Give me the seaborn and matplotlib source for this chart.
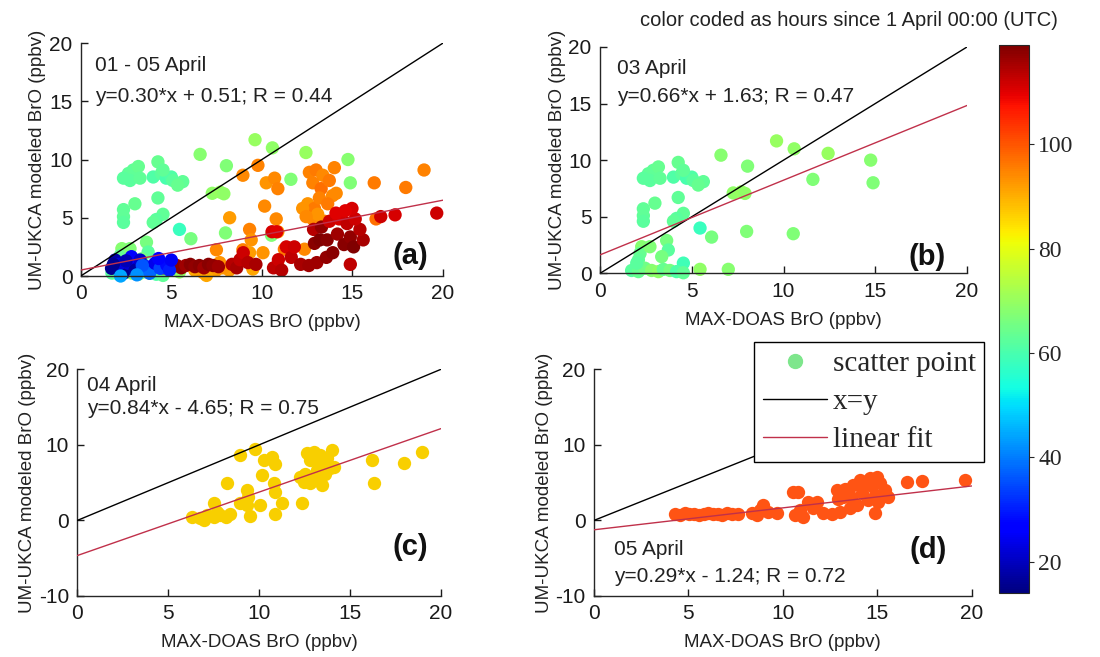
import numpy as np
import pandas as pd
import matplotlib
matplotlib.use("Agg")
import matplotlib.pyplot as plt
import seaborn as sns
from matplotlib.colors import Normalize
from matplotlib.cm import ScalarMappable
from matplotlib.lines import Line2D

# ---------------- data ----------------
# 01-02 April (blue points, only in panel a)
apr0102_x = [1.7, 1.9, 2.26, 2.35, 2.63, 2.8, 3.0, 3.28, 3.64, 3.8, 4.1, 4.38, 4.75, 4.9, 5.0,
             2.1, 2.5, 3.4, 4.3, 1.8, 3.1, 2.2]
apr0102_y = [0.66, 1.37, 0.8, 0.23, 1.09, 1.66, 0.5, 1.37, 0.8, 0.23, 1.09, 0.66, 0.94, 0.5, 1.37,
             1.0, 1.3, 0.9, 1.5, 1.0, 0.1, 0.0]
apr0102_h = [16, 18, 20, 15, 22, 26, 17, 21, 30, 38, 24, 34, 28, 30, 25,
             23, 19, 36, 27, 16, 42, 44]

# 03 April
apr03_x = [9.62, 10.58, 6.59, 12.43, 14.75, 14.88, 11.6, 8.04, 4.26,
           2.63, 2.9, 3.18, 2.72, 3.27, 2.36,
           4.0, 4.45, 4.72, 5.0, 5.08, 5.63, 5.35, 4.54,
           4.26, 2.99, 2.36, 2.36, 2.36, 4.54, 4.17, 4.0,
           7.26, 7.7, 7.9, 5.45, 6.08, 7.99, 10.53, 3.63,
           2.27, 2.18, 2.09, 3.72, 3.36, 2.72, 4.54, 5.45, 6.99,
           1.72, 2.09, 2.45, 2.81, 3.18, 3.45, 3.81, 4.17, 4.54, 2.0]
apr03_y = [11.7, 11.0, 10.44, 10.6, 10.0, 8.0, 8.3, 9.47, 9.8,
           8.8, 9.1, 9.4, 8.2, 8.4, 8.4,
           8.5, 8.8, 8.4, 8.5, 8.2, 8.1, 7.8, 9.1,
           6.7, 6.2, 5.7, 5.1, 4.6, 5.3, 4.85, 4.6,
           7.1, 7.2, 7.06, 4.0, 3.2, 3.7, 3.5, 2.9,
           2.35, 1.76, 1.18, 2.06, 1.47, 2.35, 0.9, 0.35, 0.35,
           0.25, 0.15, 0.45, 0.25, 0.15, 0.35, 0.25, 0.15, 0.05, 0.9]
apr03_h = [70, 69, 68, 70, 68, 67, 67, 67, 64,
           63, 63, 64, 62, 63, 62,
           61, 62, 60, 61, 62, 63, 64, 63,
           63, 64, 63, 63, 62, 63, 62, 63,
           69, 70, 69, 58, 66, 67, 67, 66,
           68, 64, 63, 62, 66, 67, 59, 69, 68,
           62, 64, 65, 68, 69, 64, 66, 61, 63, 62]

# 04 April
apr04_x = [8.95, 9.78, 10.24, 10.7, 10.88, 8.22, 10.15, 9.32, 9.41, 10.79, 10.88, 11.24, 12.35,
           10.06, 8.95, 9.32, 7.49, 9.5, 10.88, 8.4, 8.2,
           6.29, 6.75, 7.12, 7.49, 7.85, 6.94, 7.67,
           16.2, 16.3, 17.94, 18.95,
           12.62, 12.99, 13.36, 12.81, 13.27, 13.72, 14.0, 13.9, 12.53, 12.9, 13.45, 12.8,
           12.25, 13.17, 13.63, 14.1, 13.08, 12.44]
apr04_y = [8.65, 9.5, 8.0, 8.4, 7.5, 5.0, 6.0, 4.0, 3.1, 4.9, 3.8, 2.3, 2.3,
           2.0, 2.25, 2.0, 2.25, 0.6, 0.9, 0.9, 0.5,
           0.5, 0.3, 0.7, 0.5, 0.7, 0.05, 1.15,
           8.0, 4.9, 7.6, 9.1,
           8.9, 9.1, 8.65, 8.0, 7.5, 8.2, 9.3, 6.9, 6.2, 5.8, 4.7, 4.9,
           5.8, 6.7, 6.2, 7.1, 5.3, 5.1]
apr04_h = [94, 95, 93, 94, 95, 92, 94, 95, 93, 94, 92, 96, 94,
           93, 95, 92, 94, 91, 94, 93, 92,
           91, 92, 93, 92, 93, 91, 93,
           96, 97, 96, 95,
           95, 96, 94, 95, 97, 96, 95, 94, 93, 96, 95, 94,
           93, 95, 96, 94, 93, 94]

# 05 April
apr05_x = [4.3, 4.55, 4.8, 5.05, 5.3, 5.55, 5.8, 6.05, 6.3, 6.55, 6.8, 7.05, 7.3, 7.6,
           8.35, 8.61, 8.79, 8.97, 9.23, 9.67,
           10.56, 10.82, 10.64, 10.91, 11.09, 11.35, 11.62, 11.79, 12.14, 12.59, 13.03, 13.56, 13.91,
           12.85, 13.29, 13.73, 12.9, 13.2, 13.6, 14.17, 14.53, 14.88, 15.06, 15.59, 15.41,
           14.26, 14.7, 15.15, 14.09, 14.97, 14.6,
           14.88, 16.56, 17.35, 19.65]
apr05_y = [0.9, 0.7, 1.0, 0.8, 0.9, 0.7, 0.9, 1.0, 0.8, 0.9, 0.7, 1.0, 0.9, 0.8,
           1.0, 0.7, 1.4, 2.0, 1.15, 1.0,
           3.8, 3.8, 0.7, 1.4, 0.5, 2.5, 1.6, 2.5, 1.0, 0.9, 1.15, 1.6, 2.0,
           4.0, 4.2, 4.7, 2.8, 3.1, 3.1, 3.6, 2.7, 3.35, 2.5, 3.1, 4.0,
           4.9, 4.5, 4.9, 5.4, 5.8, 5.6,
           1.0, 5.1, 5.25, 5.4]
apr05_h = [117, 118, 116, 118, 117, 118, 116, 118, 117, 118, 116, 118, 117, 116,
           114, 115, 113, 112, 114, 115,
           111, 110, 113, 112, 114, 111, 113, 112, 115, 116, 116, 117, 118,
           114, 117, 112, 118, 119, 118, 116, 118, 117, 119, 115, 114,
           111, 113, 112, 110, 111, 110,
           113, 112, 111, 112]

# fits per panel (a, b, c, d)
panel_dates = ["01 - 05 April", "03 April", "04 April", "05 April"]
panel_tags = ["(a)", "(b)", "(c)", "(d)"]
fit_slope = [0.30, 0.66, 0.84, 0.29]
fit_icpt = [0.51, 1.63, -4.65, -1.24]
fit_r = [0.44, 0.47, 0.75, 0.72]
line_x = [0, 20]

hour_range = [14, 119]
cbar_ticks = [20, 40, 60, 80, 100]
x_ticks = [0, 5, 10, 15, 20]
y_ticks_top = [0, 5, 10, 15, 20]
y_ticks_bottom = [-10, 0, 10, 20]

# ---------------- styling ----------------
sns.set_style("ticks")
plt.rcParams["font.family"] = ["Liberation Sans", "DejaVu Sans"]
plt.rcParams["axes.linewidth"] = 1.0
plt.rcParams["axes.unicode_minus"] = False

df_0102 = pd.DataFrame({"x": apr0102_x, "y": apr0102_y, "hour": apr0102_h})
df_03 = pd.DataFrame({"x": apr03_x, "y": apr03_y, "hour": apr03_h})
df_04 = pd.DataFrame({"x": apr04_x, "y": apr04_y, "hour": apr04_h})
df_05 = pd.DataFrame({"x": apr05_x, "y": apr05_y, "hour": apr05_h})
df_all = pd.concat([df_03, df_04, df_05, df_0102], ignore_index=True)

fig = plt.figure(figsize=(11, 6.57), dpi=100)
ax_a = fig.add_axes([0.0734, 0.5799, 0.3294, 0.3546])
ax_b = fig.add_axes([0.5455, 0.5840, 0.3336, 0.3445])
ax_c = fig.add_axes([0.0703, 0.0929, 0.3306, 0.3450])
ax_d = fig.add_axes([0.5400, 0.0929, 0.3434, 0.3450])
cax = fig.add_axes([0.9082, 0.0974, 0.0273, 0.8341])
axes = [ax_a, ax_b, ax_c, ax_d]

cmap = matplotlib.colormaps["jet"]
norm = Normalize(*hour_range)
ms = 92

sns.scatterplot(data=df_all, x="x", y="y", hue="hour", palette=cmap, hue_norm=norm,
                s=ms, linewidth=0, legend=False, ax=ax_a, clip_on=False, zorder=2)
sns.scatterplot(data=df_03, x="x", y="y", hue="hour", palette=cmap, hue_norm=norm,
                s=ms, linewidth=0, legend=False, ax=ax_b, clip_on=False, zorder=2)
sns.scatterplot(data=df_04, x="x", y="y", color="#f8cf00",
                s=ms, linewidth=0, legend=False, ax=ax_c, clip_on=False, zorder=2)
sns.scatterplot(data=df_05, x="x", y="y", color="#ff5414",
                s=ms, linewidth=0, legend=False, ax=ax_d, clip_on=False, zorder=2)

red = "#c0304a"
text_pos = [((0.8, 18.1), (0.8, 15.45), (18.2, 1.7)),
            ((0.9, 18.1), (0.9, 15.6), (17.8, 1.45)),
            ((0.55, 17.9), (0.55, 14.8), (18.3, -3.5)),
            ((1.06, -3.9), (1.06, -7.45), (17.7, -3.9))]

for i, ax in enumerate(axes):
    lx = np.array(line_x, dtype=float)
    sns.lineplot(x=lx, y=lx, color="black", linewidth=1.0, ax=ax, zorder=3)
    sns.lineplot(x=lx, y=fit_slope[i] * lx + fit_icpt[i], color=red, linewidth=1.0, ax=ax, zorder=3)
    ax.set_xlim(0, 20)
    if i < 2:
        ax.set_ylim(0, 20)
        ax.set_yticks(y_ticks_top)
    else:
        ax.set_ylim(-10, 20)
        ax.set_yticks(y_ticks_bottom)
    ax.set_xticks(x_ticks)
    sns.despine(ax=ax)
    ax.tick_params(direction="in", length=5, width=1, labelsize=15, pad=6, colors="#1a1a1a")
    ax.set_xlabel("MAX-DOAS BrO (ppbv)", fontsize=13.5, color="#222222", labelpad=8)
    ax.set_ylabel("UM-UKCA modeled BrO (ppbv)", fontsize=13.5, color="#222222", labelpad=2)
    b = fit_icpt[i]
    sign = "+" if b >= 0 else "-"
    eq = f"y={fit_slope[i]:.2f}*x {sign} {abs(b):.2f}; R = {fit_r[i]:.2f}"
    (dx, dy), (ex, ey), (tx, ty) = text_pos[i]
    ax.text(dx, dy, panel_dates[i], fontsize=15, ha="left", va="center", color="#222222")
    ax.text(ex, ey, eq, fontsize=15, ha="left", va="center", color="#222222")
    ax.text(tx, ty, panel_tags[i], fontsize=21, fontweight="bold", ha="center", va="center",
            color="#111111")

# colorbar
sm = ScalarMappable(norm=norm, cmap=cmap)
cb = fig.colorbar(sm, cax=cax)
cb.set_ticks(cbar_ticks)
cb.outline.set_linewidth(0.8)
cax.tick_params(direction="inout", length=7, width=0.8, labelsize=17, pad=3)
for lab in cax.get_yticklabels():
    lab.set_fontfamily("Liberation Serif")
fig.text(0.772, 0.969, "color coded as hours since 1 April 00:00 (UTC)", fontsize=14.5,
         ha="center", va="center", color="#222222")

# legend
handles = [Line2D([], [], marker="o", linestyle="none", color="#7ee68c", markersize=10),
           Line2D([], [], color="black", linewidth=1.0),
           Line2D([], [], color=red, linewidth=1.0)]
leg = ax_d.legend(handles, ["scatter point", "x=y", "linear fit"], loc="upper left",
                  bbox_to_anchor=(8.47, 23.6), bbox_transform=ax_d.transData,
                  prop={"family": "Liberation Serif", "size": 21}, frameon=True,
                  fancybox=False, edgecolor="black", framealpha=1, borderpad=0.3,
                  labelspacing=0.4, handlelength=2.2, handletextpad=0.2, borderaxespad=0)
leg.get_frame().set_linewidth(1.0)
leg.set_zorder(5)

fig.savefig("out.png", dpi=100)
